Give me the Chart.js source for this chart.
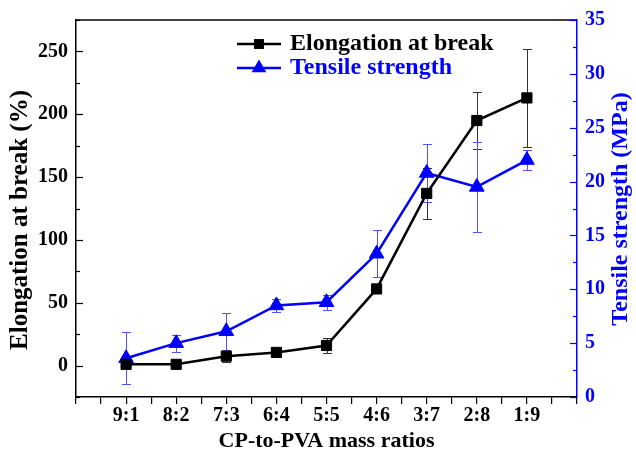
<!DOCTYPE html>
<html>
<head>
<meta charset="utf-8">
<script src="https://cdn.jsdelivr.net/npm/chart.js@4"></script>
<style>
  html, body { margin: 0; padding: 0; background: #fff; }
  #wrap { width: 636px; height: 456px; }
</style>
</head>
<body>
<div id="wrap"><canvas id="chart"></canvas></div>
<script>
// data
const ratios = ['9:1', '8:2', '7:3', '6:4', '5:5', '4:6', '3:7', '2:8', '1:9'];
const elongation = [1, 1, 7.5, 10.5, 16, 61, 137, 195, 213];
const elongationErr = [1.5, 1, 5, 2.5, 6, 3, 20, 23, 39];
const tensile = [3.6, 5.0, 6.1, 8.5, 8.8, 13.3, 20.8, 19.5, 22.0];
const tensileErr = [2.4, 0.8, 1.7, 0.6, 0.7, 2.2, 2.7, 4.2, 0.9];
const leftTicks = [0, 50, 100, 150, 200, 250];
const rightTicks = [0, 5, 10, 15, 20, 25, 30, 35];

const FONT = '"Liberation Serif", "Times New Roman", serif';
const BLUE = '#0000ff';

const toPoints = arr => arr.map((v, i) => ({ x: i + 1, y: v }));

// vertical text reading bottom-to-top
function sideTitle(ctx, text, x, y, color, size) {
  ctx.save();
  ctx.translate(x, y);
  ctx.rotate(-Math.PI / 2);
  ctx.fillStyle = color;
  ctx.font = 'bold ' + size + 'px ' + FONT;
  ctx.textAlign = 'center';
  ctx.textBaseline = 'middle';
  ctx.fillText(text, 0, 0);
  ctx.restore();
}

// error bars + inside tick marks + frame + legend + y titles
const decorations = {
  id: 'decorations',
  beforeDatasetsDraw(chart) {
    const { ctx } = chart;
    const x = chart.scales.x;
    const sets = [
      [chart.scales.y, elongation, elongationErr, '#333333'],
      [chart.scales.y2, tensile, tensileErr, '#5050ff']
    ];
    ctx.save();
    ctx.lineWidth = 1;
    sets.forEach(([ys, vals, errs, col]) => {
      ctx.strokeStyle = col;
      vals.forEach((v, i) => {
        const px = Math.round(x.getPixelForValue(i + 1)) + 0.5;
        const top = Math.round(ys.getPixelForValue(v + errs[i])) + 0.5;
        const bot = Math.round(ys.getPixelForValue(v - errs[i])) + 0.5;
        ctx.beginPath();
        ctx.moveTo(px, top); ctx.lineTo(px, bot);
        ctx.moveTo(px - 4.5, top); ctx.lineTo(px + 4.5, top);
        ctx.moveTo(px - 4.5, bot); ctx.lineTo(px + 4.5, bot);
        ctx.stroke();
      });
    });
    ctx.restore();
  },
  afterDraw(chart) {
    const { ctx, chartArea: a } = chart;
    const yl = chart.scales.y, yr = chart.scales.y2;
    ctx.save();
    ctx.lineWidth = 1.5;
    // top frame line
    ctx.strokeStyle = '#000';
    ctx.beginPath();
    ctx.moveTo(a.left, a.top); ctx.lineTo(a.right, a.top);
    ctx.stroke();
    // inside ticks, left axis
    ctx.lineWidth = 1.2;
    for (let v = -25; v <= 275; v += 25) {
      const py = Math.round(yl.getPixelForValue(v)) + 0.5;
      const len = v % 50 === 0 ? 7 : 4;
      ctx.beginPath();
      ctx.moveTo(a.left, py); ctx.lineTo(a.left + len, py);
      ctx.stroke();
    }
    // inside ticks, right axis
    ctx.strokeStyle = BLUE;
    for (let v = 0; v <= 35; v += 2.5) {
      const py = Math.round(yr.getPixelForValue(v)) + 0.5;
      const len = v % 5 === 0 ? 7 : 4;
      ctx.beginPath();
      ctx.moveTo(a.right, py); ctx.lineTo(a.right - len, py);
      ctx.stroke();
    }
    // legend
    const items = [
      { label: 'Elongation at break', color: '#000', style: 'rect', r: 7, y: 44 },
      { label: 'Tensile strength', color: BLUE, style: 'triangle', r: 8.5, y: 68 }
    ];
    items.forEach(it => {
      ctx.strokeStyle = it.color;
      ctx.fillStyle = it.color;
      ctx.lineWidth = 2.5;
      ctx.beginPath();
      ctx.moveTo(237, it.y); ctx.lineTo(281, it.y);
      ctx.stroke();
      Chart.helpers.drawPoint(ctx, { pointStyle: it.style, radius: it.r, borderWidth: 0 }, 259, it.y);
      ctx.font = 'bold 24px ' + FONT;
      ctx.textBaseline = 'middle';
      ctx.textAlign = 'left';
      ctx.fillText(it.label, 290, it.y);
    });
    ctx.restore();
    sideTitle(ctx, 'Elongation at break (%)', 21, 220, '#000', 25);
    sideTitle(ctx, 'Tensile strength (MPa)', 621, 209, BLUE, 24);
  }
};

new Chart(document.getElementById('chart'), {
  type: 'line',
  data: {
    datasets: [
      {
        label: 'Elongation at break',
        data: toPoints(elongation),
        yAxisID: 'y',
        borderColor: '#000',
        backgroundColor: '#000',
        borderWidth: 2.5,
        pointStyle: 'rect',
        pointRadius: 7.2,
        pointBorderWidth: 1
      },
      {
        label: 'Tensile strength',
        data: toPoints(tensile),
        yAxisID: 'y2',
        borderColor: BLUE,
        backgroundColor: BLUE,
        borderWidth: 2.5,
        pointStyle: 'triangle',
        pointRadius: 8.5,
        pointBorderWidth: 1
      }
    ]
  },
  options: {
    responsive: true,
    maintainAspectRatio: false,
    animation: false,
    layout: { padding: { top: 20, left: 0, right: 0, bottom: 0 } },
    plugins: {
      legend: { display: false },
      tooltip: { enabled: false }
    },
    scales: {
      x: {
        type: 'linear',
        min: 0,
        max: 10,
        afterBuildTicks: s => {
          const t = [];
          for (let v = 0; v <= 10; v += 0.5) t.push({ value: v });
          s.ticks = t;
        },
        afterFit: s => { s.height = 59; },
        grid: { drawOnChartArea: false, drawTicks: true, tickLength: 7, color: '#000', lineWidth: 1.2 },
        border: { display: true, color: '#000', width: 1.5 },
        ticks: {
          autoSkip: false,
          maxRotation: 0,
          padding: 0,
          color: '#000',
          font: { family: FONT, size: 20, weight: 'bold' },
          callback: v => (Number.isInteger(v) && v >= 1 && v <= 9) ? ratios[v - 1] : ''
        },
        title: {
          display: true,
          text: 'CP-to-PVA mass ratios',
          color: '#000',
          font: { family: FONT, size: 22, weight: 'bold' },
          padding: { top: 0, bottom: 1 }
        }
      },
      y: {
        position: 'left',
        min: -25,
        max: 275,
        afterBuildTicks: s => { s.ticks = leftTicks.map(v => ({ value: v })); },
        afterFit: s => { s.width = 76; },
        grid: { drawOnChartArea: false, drawTicks: false },
        border: { display: true, color: '#000', width: 1.5 },
        ticks: {
          autoSkip: false,
          padding: 8,
          color: '#000',
          font: { family: FONT, size: 20, weight: 'bold' }
        }
      },
      y2: {
        position: 'right',
        min: 0,
        max: 35,
        afterBuildTicks: s => { s.ticks = rightTicks.map(v => ({ value: v })); },
        afterFit: s => { s.width = 59; },
        grid: { drawOnChartArea: false, drawTicks: false },
        border: { display: true, color: BLUE, width: 1.5 },
        ticks: {
          autoSkip: false,
          padding: 8,
          color: BLUE,
          font: { family: FONT, size: 20, weight: 'bold' }
        }
      }
    }
  },
  plugins: [decorations]
});
</script>
</body>
</html>
